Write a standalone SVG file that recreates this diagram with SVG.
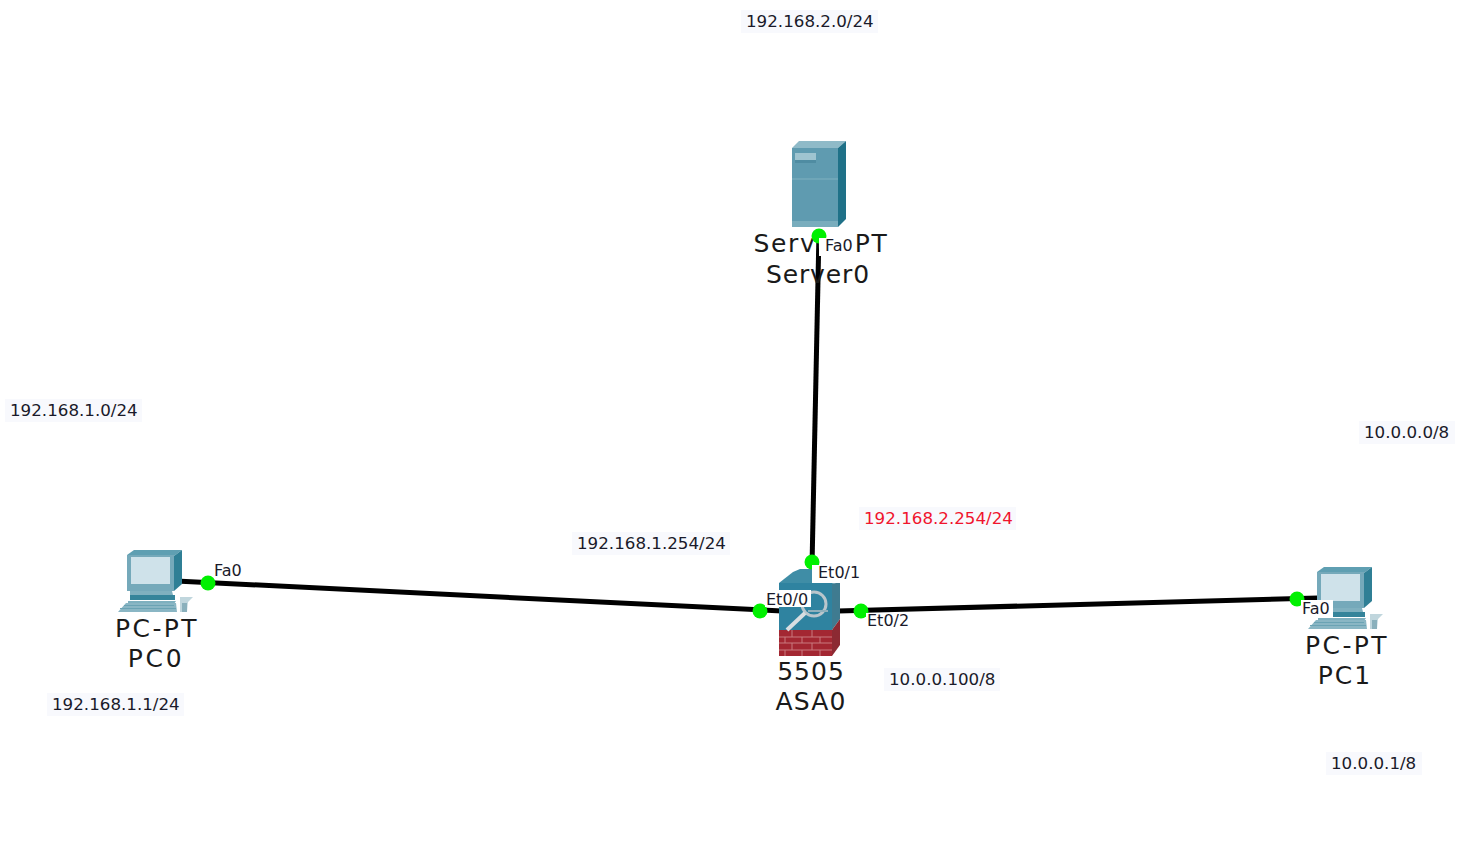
<svg xmlns="http://www.w3.org/2000/svg" width="1466" height="868" viewBox="0 0 1466 868">
<style>
.big{font-family:"DejaVu Sans",sans-serif;font-size:25px;fill:#1a1a1a;text-anchor:middle}
.sm{font-family:"DejaVu Sans",sans-serif;font-size:16.7px;fill:#1a1a2a}
.if{font-family:"DejaVu Sans",sans-serif;font-size:16px;fill:#1a1a2a}
.lnk{stroke:#000;stroke-width:5;fill:none}
.port{fill:#00f000}
.ibg{fill:#fff}
.nbg{fill:#f8f9fd}
</style>
<defs>
<g id="pc">
<path d="M127 555l7-5h48l-8 6z" fill="#5f9fb2"/>
<path d="M174 556l8-6v34l-8 7z" fill="#2f7f95"/>
<path d="M127 555h47v36h-47z" fill="#75a9ba"/>
<rect x="131" y="557" width="39" height="27" fill="#cfe2ea"/>
<path d="M130 591h42l1 4h-43z" fill="#7fb0bf"/>
<path d="M130 595h45v5h-45z" fill="#35849a"/>
<path d="M128 601h48l-2 3h-46z" fill="#7fb0bf"/>
<path d="M126 603h50l1 9h-59z" fill="#8ab6c4"/>
<path d="M120 608h56v1h-56zM124 605h50v1h-50z" fill="#6ba3b4"/>
<path d="M180 597h13l-5 5 -1 10h-7z" fill="#c0d6dd"/>
<path d="M182 603h5v9h-5z" fill="#8ab0bc"/>
</g>
</defs>

<g id="connectors">
<path class="lnk" d="M819 232L812 566"/>
<path class="lnk" d="M176 581L782 611"/>
<path class="lnk" d="M838 611L1318 598"/>
</g>

<g id="Server0">
<path d="M792 148l7-7h47l-8 7z" fill="#8fbac8"/>
<path d="M838 148l8-7v78l-8 8z" fill="#1f7188"/>
<rect x="792" y="148" width="46" height="79" fill="#5f9bb0"/>
<rect x="795" y="153" width="21" height="10" fill="#4f8ca2"/>
<rect x="795" y="153" width="21" height="7" fill="#9fc4d0"/>
<rect x="792" y="178" width="46" height="2" fill="#6fa6b8"/>
<rect x="792" y="221" width="46" height="6" fill="#79adbd"/>
<text class="big" x="821" y="252" style="letter-spacing:1.7px">Server-PT</text>
<text class="big" x="818" y="283" style="letter-spacing:.9px">Server0</text>
</g>

<g id="ASA0">
<path d="M779 583l14-11 7-3h18l22 13-8 2h-53z" fill="#3f8da6"/>
<path d="M779 583h53v47h-53z" fill="#2f83a0"/>
<path d="M832 584l8-2v37l-8 11z" fill="#3f7b90"/>
<rect x="779" y="630" width="53" height="26" fill="#a32732"/>
<path d="M832 630l8-11v26l-8 11z" fill="#8c2a33"/>
<path d="M779 637h53M779 643h53M779 650h53M792 630v7M812 630v7M785 637v6M802 637v6M820 637v6M792 643v7M812 643v7M785 650v6M802 650v6M820 650v6" stroke="#c97a7e" stroke-width="1" fill="none"/>
<circle cx="814" cy="604" r="12" fill="none" stroke="#b9c6cc" stroke-width="3"/>
<path d="M805 613l-18 17" stroke="#d8dee1" stroke-width="4"/>
<path d="M808 611h20" stroke="#8fb0bc" stroke-width="2"/>
<text class="big" x="811" y="680" style="letter-spacing:1px">5505</text>
<text class="big" x="811" y="710" style="letter-spacing:1.2px">ASA0</text>
</g>

<g id="PC0">
<use href="#pc"/>
<text class="big" x="157" y="637" style="letter-spacing:2.4px">PC-PT</text>
<text class="big" x="156" y="667" style="letter-spacing:2.7px">PC0</text>
</g>

<g id="PC1">
<use href="#pc" x="1190" y="17"/>
<text class="big" x="1347" y="654" style="letter-spacing:2.4px">PC-PT</text>
<text class="big" x="1345" y="684" style="letter-spacing:2px">PC1</text>
</g>

<g id="ports">
<circle class="port" cx="819" cy="236" r="7.5"/>
<circle class="port" cx="812" cy="562" r="7.5"/>
<circle class="port" cx="208" cy="583" r="7.5"/>
<circle class="port" cx="760" cy="611" r="7.5"/>
<circle class="port" cx="861" cy="611" r="7.5"/>
<circle class="port" cx="1297" cy="599" r="7.5"/>
</g>

<g id="interface-labels">
<rect class="ibg" x="819" y="238" width="36" height="18"/>
<text class="if" x="825" y="251">Fa0</text>
<rect class="ibg" x="812" y="565" width="50" height="18"/>
<text class="if" x="818" y="578">Et0/1</text>
<rect class="ibg" x="765" y="590" width="46" height="17"/>
<text class="if" x="766" y="605">Et0/0</text>
<rect class="ibg" x="866" y="613" width="46" height="18"/>
<text class="if" x="867" y="626">Et0/2</text>
<text class="if" x="214" y="576">Fa0</text>
<rect class="ibg" x="1301" y="600" width="32" height="18"/>
<text class="if" x="1302" y="614">Fa0</text>
</g>

<g id="notes">
<rect class="nbg" x="741" y="10" width="137" height="23"/>
<text class="sm" x="746" y="27">192.168.2.0/24</text>
<rect class="nbg" x="5" y="399" width="137" height="23"/>
<text class="sm" x="10" y="416">192.168.1.0/24</text>
<rect class="nbg" x="1359" y="421" width="96" height="23"/>
<text class="sm" x="1364" y="438">10.0.0.0/8</text>
<rect class="nbg" x="572" y="532" width="158" height="23"/>
<text class="sm" x="577" y="549">192.168.1.254/24</text>
<rect class="nbg" x="859" y="507" width="157" height="23"/>
<text class="sm" x="864" y="524" style="fill:#f0142d">192.168.2.254/24</text>
<rect class="nbg" x="884" y="668" width="116" height="23"/>
<text class="sm" x="889" y="685">10.0.0.100/8</text>
<rect class="nbg" x="47" y="693" width="137" height="23"/>
<text class="sm" x="52" y="710">192.168.1.1/24</text>
<rect class="nbg" x="1326" y="752" width="96" height="23"/>
<text class="sm" x="1331" y="769">10.0.0.1/8</text>
</g>
</svg>
